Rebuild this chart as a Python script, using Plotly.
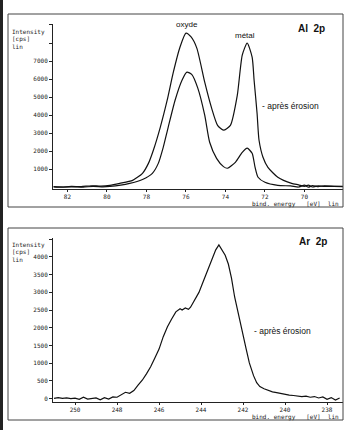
import plotly.graph_objects as go

# ---------------- data: Al 2p (top panel) ----------------
al_energy_before = [82.7, 82.3, 81.8, 81.3, 80.8, 80.3, 79.85, 79.35, 78.7, 78.2, 77.9, 77.65, 77.3,
                    76.95, 76.65, 76.3, 76.0, 75.75, 75.45, 75.05, 74.7, 74.4, 74.1, 73.75, 73.4,
                    73.15, 72.9, 72.65, 72.55, 72.4, 72.3, 72.1, 71.85, 71.35, 70.65, 70.3, 70.0,
                    69.8, 69.6, 69.3, 69.0, 68.5, 68.05]
al_cps_before = [30, 10, 50, 40, 90, 70, 110, 220, 390, 780, 1330, 2060, 3330,
                 4830, 6330, 7780, 8550, 8350, 7720, 5830, 4390, 3440, 3170, 3440, 5110,
                 7330, 8000, 7220, 5940, 4110, 2610, 1670, 1110, 560, 220, 140, 60,
                 130, 20, 90, 60, 50, 40]

al_energy_after = [82.7, 82.2, 81.7, 81.2, 80.7, 80.2, 79.85, 78.85, 78.2, 77.7, 77.4, 77.15, 76.9,
                   76.55, 76.2, 75.95, 75.7, 75.4, 75.05, 74.8, 74.45, 74.1, 73.9, 73.5, 73.15,
                   72.9, 72.65, 72.5, 72.35, 72.0, 71.35, 70.7, 70.3, 70.0, 69.8, 69.6, 69.3,
                   69.0, 68.5, 68.05]
al_cps_after = [40, 20, 30, 10, 60, 30, 50, 220, 440, 780, 1330, 2220, 3330,
                4830, 5940, 6390, 6250, 5500, 4000, 2500, 1610, 1150, 1060, 1390, 1940,
                2170, 1890, 1110, 560, 280, 110, 80, 20, 120, 10, 100, 40,
                80, 60, 50]

al_xticks = [82, 80, 78, 76, 74, 72, 70]
al_yticks = [1000, 2000, 3000, 4000, 5000, 6000, 7000, 8000, 9000]
al_ylabels = ["1000", "2000", "3000", "4000", "5000", "6000", "7000", "", ""]

# ---------------- data: Ar 2p (bottom panel) ----------------
ar_energy = [251.0, 250.8, 250.6, 250.4, 250.2, 250.0, 249.8, 249.6, 249.4, 249.2, 249.0, 248.8,
             248.6, 248.4, 248.2, 248.0, 247.8, 247.6, 247.4, 247.2, 247.0, 246.8, 246.6, 246.4,
             246.2, 246.0, 245.8, 245.6, 245.4, 245.2, 245.0, 244.9, 244.75, 244.6, 244.5, 244.3,
             244.1, 243.9, 243.7, 243.5, 243.3, 243.15, 243.0, 242.85, 242.7, 242.55, 242.4,
             242.2, 242.0, 241.85, 241.7, 241.5, 241.35, 241.2, 241.0, 240.8, 240.6, 240.4,
             240.2, 240.0, 239.8, 239.6, 239.4, 239.2, 239.0, 238.8, 238.6, 238.4, 238.2,
             238.0, 237.8, 237.6, 237.4]
ar_cps = [10, 30, 10, 20, 0, 15, -20, 40, -10, 10, 20, -30, 30, -10, 50, 40, 110, 180, 150, 230,
          380, 520, 700, 900, 1150, 1400, 1750, 2030, 2250, 2450, 2540, 2500, 2560, 2520, 2580,
          2800, 3000, 3300, 3600, 3950, 4200, 4340, 4200, 4050, 3800, 3400, 2870, 2300, 1800,
          1400, 1010, 650, 450, 340, 280, 230, 190, 170, 140, 120, 100, 90, 70, 60, 70, 40, 60,
          20, 50, -20, 30, -40, 20]

ar_xticks = [250, 248, 246, 244, 242, 240, 238]
ar_yticks = [0, 500, 1000, 1500, 2000, 2500, 3000, 3500, 4000, 4500]
ar_ylabels = ["0", "500", "1000", "1500", "2000", "2500", "3000", "3500", "4000", ""]

W, H = 352, 430
def px(x): return x / W
def py(y): return 1 - y / H

fig = go.Figure()
line = dict(color="#111", width=1.2)
fig.add_trace(go.Scatter(x=al_energy_before, y=al_cps_before, mode="lines",
                         line=dict(shape="spline", smoothing=0.6, **line), xaxis="x", yaxis="y"))
fig.add_trace(go.Scatter(x=al_energy_after, y=al_cps_after, mode="lines",
                         line=dict(shape="spline", smoothing=0.6, **line), xaxis="x", yaxis="y"))
fig.add_trace(go.Scatter(x=ar_energy, y=ar_cps, mode="lines", line=line, xaxis="x2", yaxis="y2"))

tickfont = dict(family="DejaVu Sans Mono", size=6, color="#222")
axcommon = dict(showgrid=False, zeroline=False, showline=True, linecolor="#222", linewidth=1,
                ticks="outside", tickcolor="#222", tickfont=tickfont, fixedrange=True)

fig.update_layout(
    width=W, height=H, margin=dict(l=0, r=0, t=0, b=0),
    paper_bgcolor="white", plot_bgcolor="white", showlegend=False,
    xaxis=dict(domain=[px(53), px(343)], anchor="y", range=[82.73, 68.05], ticklen=2,
               tickvals=al_xticks, ticktext=[str(v) for v in al_xticks], **axcommon),
    yaxis=dict(domain=[py(189), py(24)], anchor="x", range=[-90, 9055], ticklen=3,
               tickvals=al_yticks, ticktext=al_ylabels, **axcommon),
    xaxis2=dict(domain=[px(53), px(343)], anchor="y2", range=[251.05, 237.24], ticklen=2,
                tickvals=ar_xticks, ticktext=[str(v) for v in ar_xticks], **axcommon),
    yaxis2=dict(domain=[py(401.5), py(238)], anchor="x2", range=[-80, 4535], ticklen=3,
                tickvals=ar_yticks, ticktext=ar_ylabels, **axcommon),
)

# outer frames
frame = dict(color="#444", width=1)
fig.add_shape(type="rect", xref="paper", yref="paper", x0=px(8), x1=px(343), y0=py(207), y1=py(14), line=frame)
fig.add_shape(type="rect", xref="paper", yref="paper", x0=px(8), x1=px(343), y0=py(420), y1=py(228), line=frame)
# scan edge
fig.add_shape(type="rect", xref="paper", yref="paper", x0=0, x1=px(3), y0=0, y1=1,
              line=dict(width=0), fillcolor="#222")

mono = dict(family="DejaVu Sans Mono", size=6, color="#222")
sans = dict(family="Liberation Sans", size=8, color="#111")
nb = "\u00a0"

def ann(text, x, y, font, xanchor="left"):
    fig.add_annotation(text=text, xref="paper", yref="paper", x=px(x), y=py(y), showarrow=False,
                       xanchor=xanchor, yanchor="middle", font=font)

ann("Intensity", 10, 32, mono)
ann("[cps]", 10, 39, mono)
ann("lin", 10, 46, mono)
ann("Intensity", 10, 245, mono)
ann("[cps]", 10, 252, mono)
ann("lin", 10, 259, mono)
xtitle = "bind." + nb + "energy" + nb * 3 + "[eV]" + nb * 2 + "lin"
ann(xtitle, 341, 203.5, mono, "right")
ann(xtitle, 341, 416.5, mono, "right")

ann("oxyde", 187, 25, sans, "center")
ann("métal", 245, 35, sans, "center")
ann("- après érosion", 260, 106, dict(family="Liberation Sans", size=8.5, color="#111"))
ann("- après érosion", 252, 331, dict(family="Liberation Sans", size=8.5, color="#111"))
ann("<b>Al" + nb * 2 + "2p</b>", 311, 29, dict(family="Liberation Sans", size=10, color="#111"), "center")
ann("<b>Ar" + nb * 2 + "2p</b>", 313, 241, dict(family="Liberation Sans", size=10, color="#111"), "center")

fig.write_html("out.html")
